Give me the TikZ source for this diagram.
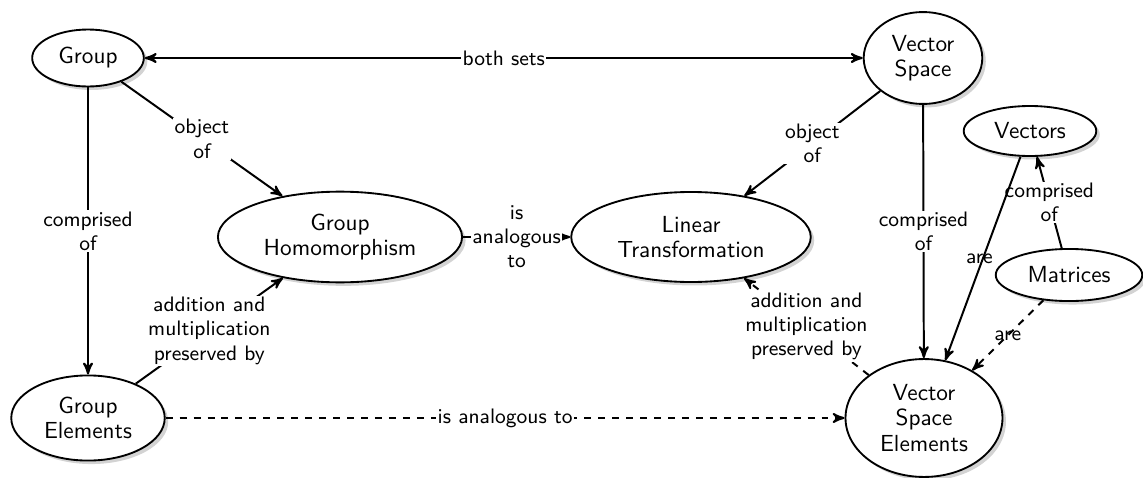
\documentclass[tikz,border=0pt]{standalone}
\usetikzlibrary{arrows,shapes.geometric,shadows}
\begin{document}
\begin{tikzpicture}[x=0.43pt,y=-0.43pt]
\tikzset{concept/.style = {shape=ellipse,draw,thick,fill=white,inner sep=0pt,align=center,
	font=\sffamily\fontsize{10}{10.8}\selectfont,
	drop shadow={shadow xshift=1.5pt,shadow yshift=-1.5pt,opacity=0.35}}}
\tikzset{link/.style = {line width=0.85pt,-,> = stealth'}}
\tikzset{lbl/.style = {fill=white,inner sep=0.6pt,align=center,
	font=\sffamily\fontsize{9}{10.4}\selectfont}}
\useasboundingbox (0,0) rectangle (1143,478);
% concepts
\node[concept,minimum width=48pt,minimum height=24.5pt] (grp) at (88,58) {Group};
\node[concept,minimum width=51pt,minimum height=39.5pt] (vs) at (923,58) {Vector\\Space};
\node[concept,minimum width=57pt,minimum height=21.5pt] (vec) at (1030,131) {Vectors};
\node[concept,minimum width=105pt,minimum height=39pt] (hom) at (340,237) {Group\\Homomorphism};
\node[concept,minimum width=103pt,minimum height=38.7pt] (lin) at (691,237) {Linear\\Transformation};
\node[concept,minimum width=63pt,minimum height=22.4pt] (mat) at (1069,275) {Matrices};
\node[concept,minimum width=66pt,minimum height=36.6pt] (gel) at (88,418) {Group\\Elements};
\node[concept,minimum width=67.5pt,minimum height=50.7pt] (vse) at (924,418) {Vector\\Space\\Elements};

%links
\draw[link] (grp) edge[<->] node[lbl]{both sets} (vs);
\draw[link] (grp) edge[->] node[lbl]{object\\of} (hom);
\draw[link] (vs) edge[->] node[lbl]{object\\of} (lin);
\draw[link] (grp) edge[->] node[lbl]{comprised\\of} (gel);
\draw[link] (vs) edge[->] node[lbl]{comprised\\of} (vse);
\draw[link] (hom) edge[->] node[lbl]{is\\analogous\\to} (lin);
\draw[link] (gel) edge[->] node[lbl]{addition and\\multiplication\\preserved by} (hom);
\draw[link] (vse) edge[->,dashed] node[lbl]{addition and\\multiplication\\preserved by} (lin);
\draw[link] (gel) edge[->,dashed] node[lbl]{is analogous to} (vse);
\draw[link] (mat) edge[->] node[lbl]{comprised\\of} (vec);
\draw[link] (vec) edge[->] node[lbl,fill=none,xshift=-1.5pt]{are} (vse);
\draw[link] (mat) edge[->,dashed] node[lbl,fill=none]{are} (vse);
\end{tikzpicture}
\end{document}
